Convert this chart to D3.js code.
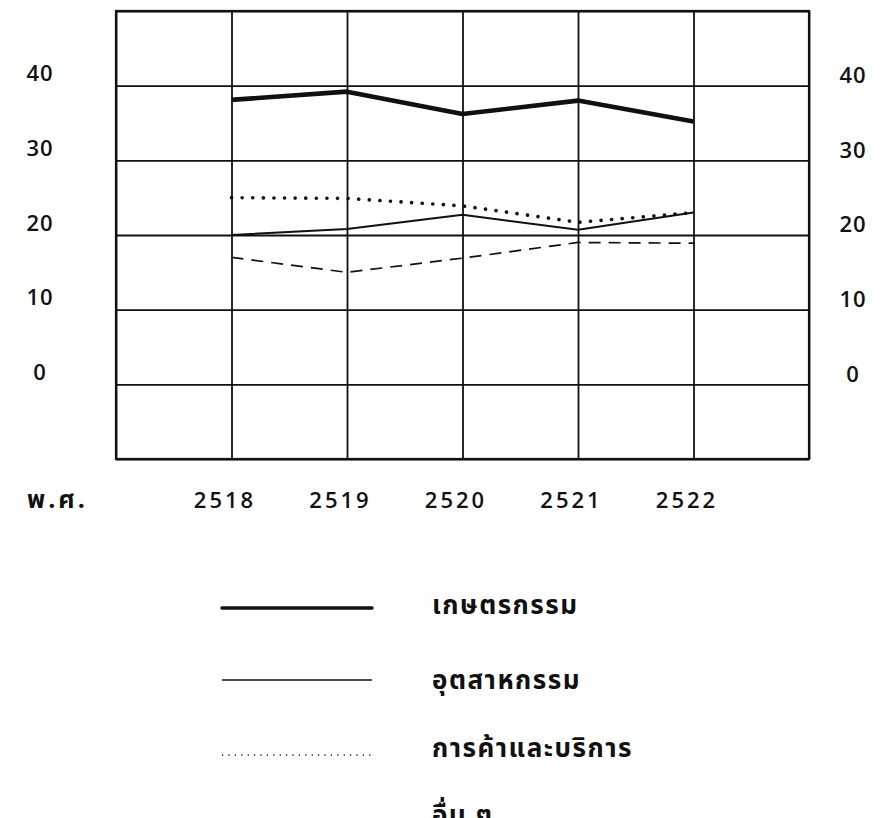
<!DOCTYPE html>
<html>
<head>
<meta charset="utf-8">
<script src="https://cdn.jsdelivr.net/npm/d3@7"></script>
<style>
  html, body { margin: 0; padding: 0; background: #fff; }
  svg { display: block; }
  .num { font-family: "Open Sans", "DejaVu Sans", sans-serif; font-weight: 600; font-size: 22px; fill: #111; }
  .thai { font-family: "Noto Sans Thai", "Noto Sans Thai Looped", "Loma", "Garuda", "Noto Sans", sans-serif; font-weight: 700; fill: #111; }
</style>
</head>
<body>
<svg id="chart" width="882" height="818"></svg>
<script>
// Share of output by sector, Buddhist-era years 2518–2522
const years = [2518, 2519, 2520, 2521, 2522];
const agriculture = [38.1, 39.2, 36.2, 38.0, 35.2];
const industry    = [20.0, 20.8, 22.7, 20.7, 23.0];
const commerce    = [25.0, 24.9, 23.9, 21.7, 23.0];
const others      = [17.0, 15.0, 16.9, 19.0, 18.9];

const seriesNames = ["เกษตรกรรม", "อุตสาหกรรม", "การค้าและบริการ", "อื่น ๆ"];
const yTickLabels = [0, 10, 20, 30, 40];
const yGrid = [-10, 0, 10, 20, 30, 40, 50];
const xGrid = [2517, 2518, 2519, 2520, 2521, 2522, 2523];
const eraLabel = "พ.ศ.";

const svg = d3.select("#chart");
const plotL = 116, plotR = 809, plotT = 11, plotB = 459;

const x = d3.scaleLinear().domain([2517, 2523]).range([plotL, plotR]);
const y = d3.scaleLinear().domain([-10, 50]).range([plotB, plotT]);

// Grid: horizontal lines with value labels on both sides
const gy = svg.append("g").attr("transform", `translate(${plotL},0)`)
  .call(d3.axisLeft(y).tickValues(yGrid).tickSize(-(plotR - plotL))
    .tickFormat(d => yTickLabels.includes(d) ? d : ""));
gy.select(".domain").remove();
gy.selectAll(".tick line").attr("stroke", "#111").attr("stroke-width", 1.8);
gy.selectAll(".tick text").attr("class", "num").attr("x", -76).attr("dy", "-0.22em")
  .attr("letter-spacing", 1).attr("text-anchor", "middle");

const gyr = svg.append("g").attr("transform", `translate(${plotR},0)`)
  .call(d3.axisRight(y).tickValues(yTickLabels).tickSize(0));
gyr.select(".domain").remove();
gyr.selectAll(".tick text").attr("class", "num").attr("x", 44).attr("dy", "-0.15em")
  .attr("letter-spacing", 1).attr("text-anchor", "middle");

// Grid: vertical lines with year labels underneath
const gx = svg.append("g").attr("transform", `translate(0,${plotB})`)
  .call(d3.axisBottom(x).tickValues(xGrid).tickSize(-(plotB - plotT))
    .tickFormat(d => years.includes(d) ? d : ""));
gx.select(".domain").remove();
gx.selectAll(".tick line").attr("stroke", "#111").attr("stroke-width", 1.8);
gx.selectAll(".tick text").attr("class", "num").attr("y", 49).attr("dy", 0)
  .attr("dx", -7).attr("letter-spacing", 3).attr("text-anchor", "middle");

// Outer frame
svg.append("rect").attr("x", plotL).attr("y", plotT)
  .attr("width", plotR - plotL).attr("height", plotB - plotT)
  .attr("fill", "none").attr("stroke", "#111").attr("stroke-width", 2.2);

svg.append("text").attr("class", "thai").attr("x", 27).attr("y", 508)
  .attr("font-size", 25).attr("letter-spacing", 3).text(eraLabel);

// Series styles
const styles = [
  { values: agriculture, width: 4.6, dash: null, cap: "butt" },
  { values: industry,    width: 2,   dash: null, cap: "butt" },
  { values: commerce,    width: 3.6, dash: "0.1 10.5", cap: "round" },
  { values: others,      width: 1.7, dash: "12 8", cap: "butt" }
];

const line = d3.line().x((d, i) => x(years[i])).y(d => y(d));

styles.forEach(s => {
  svg.append("path").datum(s.values).attr("d", line)
    .attr("fill", "none").attr("stroke", "#111")
    .attr("stroke-width", s.width).attr("stroke-linejoin", "round")
    .attr("stroke-linecap", s.cap)
    .attr("stroke-dasharray", s.dash);
});

// Legend: key line on the left, sector name on the right
const legendRows = [
  { lineY: 608, textY: 614, width: 3.5, dash: null, cap: "round" },
  { lineY: 680, textY: 689, width: 1.6, dash: null, cap: "butt" },
  { lineY: 755, textY: 757, width: 1.3, dash: "1.2 5.2", cap: "butt" },
  { lineY: 832, textY: 824, width: 1.5, dash: "12 8", cap: "butt" }
];
const lg = svg.append("g");
seriesNames.forEach((name, i) => {
  const r = legendRows[i];
  lg.append("line").attr("x1", 222).attr("x2", 372).attr("y1", r.lineY).attr("y2", r.lineY)
    .attr("stroke", "#111").attr("stroke-width", r.width)
    .attr("stroke-linecap", r.cap)
    .attr("stroke-dasharray", r.dash);
  lg.append("text").attr("class", "thai").attr("x", 432).attr("y", r.textY)
    .attr("font-size", 26).attr("letter-spacing", 1.5).text(name);
});
</script>
</body>
</html>
